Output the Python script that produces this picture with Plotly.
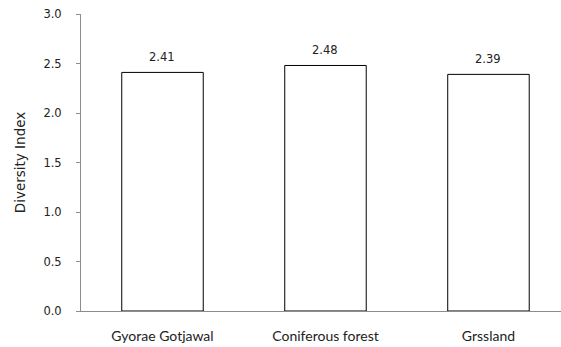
import plotly.graph_objects as go

# Habitat categories and their diversity index values
habitats = ["Gyorae Gotjawal", "Coniferous forest", "Grssland"]
diversity = [2.41, 2.48, 2.39]
y_ticks = [0.0, 0.5, 1.0, 1.5, 2.0, 2.5, 3.0]
y_tick_text = ["0.0", "0.5", "1.0", "1.5", "2.0", "2.5", "3.0"]

fig = go.Figure()
fig.add_trace(go.Bar(
    x=list(range(len(habitats))),
    y=diversity,
    width=0.5,
    marker=dict(color="white", line=dict(color="black", width=1)),
    hoverinfo="skip",
))

# Value labels placed just above each bar
for i, v in enumerate(diversity):
    fig.add_annotation(
        x=i, y=v, text=f"{v:.2f}", showarrow=False, yshift=15,
        font=dict(family="DejaVu Sans", size=11.5, color="#222222"),
    )

fig.update_layout(
    width=561, height=347,
    margin=dict(l=81, r=0, t=14, b=36),
    paper_bgcolor="white", plot_bgcolor="white",
    showlegend=False,
    xaxis=dict(
        range=[-0.5, 2.445],
        tickmode="array",
        tickvals=list(range(len(habitats))),
        ticktext=habitats,
        showline=True, linecolor="#8c8c8c", linewidth=1,
        ticks="", showgrid=False, zeroline=False,
        tickfont=dict(family="Lato", size=14, color="#222222"),
        ticklabelstandoff=12,
    ),
    yaxis=dict(
        range=[0, 3],
        tickmode="array",
        tickvals=y_ticks,
        ticktext=y_tick_text,
        showline=True, linecolor="#8c8c8c", linewidth=1,
        ticks="outside", ticklen=4, tickcolor="#8c8c8c",
        showgrid=False, zeroline=False,
        tickfont=dict(family="DejaVu Sans", size=11.5, color="#222222"),
        ticklabelstandoff=12,
        title=dict(text="Diversity Index", standoff=14,
                   font=dict(family="DejaVu Sans", size=13.5, color="#222222")),
    ),
)

fig.write_html("out.html")
